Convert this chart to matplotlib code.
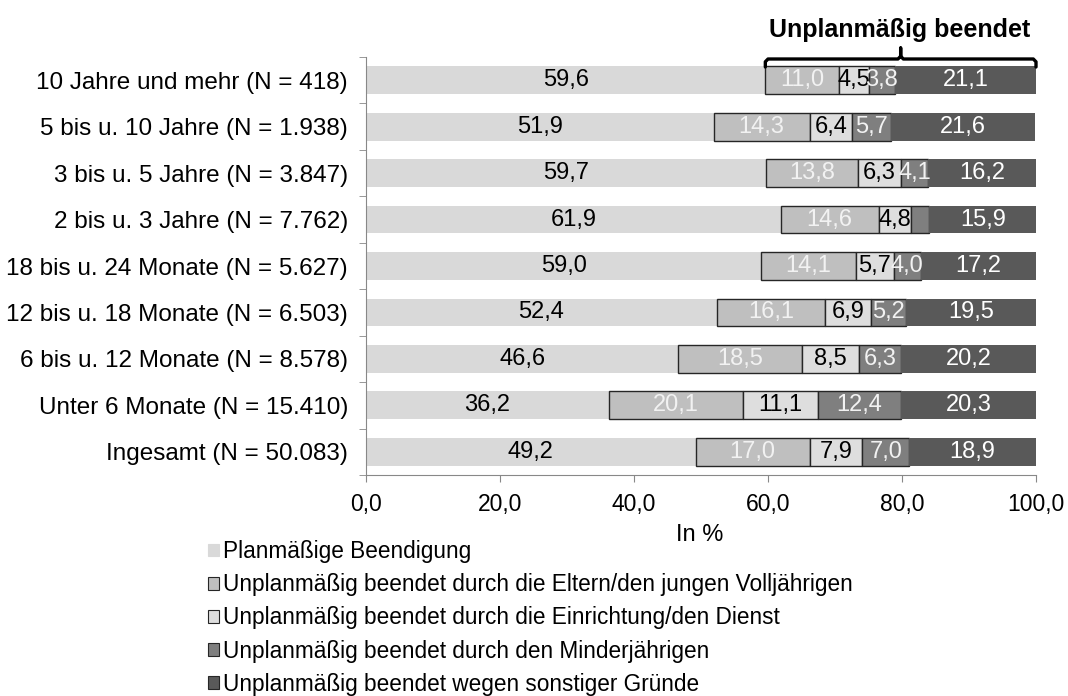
import matplotlib.pyplot as plt
import numpy as np
from matplotlib.patches import Patch
from matplotlib.transforms import blended_transform_factory

plt.rcParams['font.family'] = ['Liberation Sans', 'DejaVu Sans']

categories = [
    '10 Jahre und mehr (N = 418)',
    '5 bis u. 10 Jahre (N = 1.938)',
    '3 bis u. 5 Jahre (N = 3.847)',
    '2 bis u. 3 Jahre (N = 7.762)',
    '18 bis u. 24 Monate (N = 5.627)',
    '12 bis u. 18 Monate (N = 6.503)',
    '6 bis u. 12 Monate (N = 8.578)',
    'Unter 6 Monate (N = 15.410)',
    'Ingesamt (N = 50.083)',
]
planmaessig = [59.6, 51.9, 59.7, 61.9, 59.0, 52.4, 46.6, 36.2, 49.2]
eltern = [11.0, 14.3, 13.8, 14.6, 14.1, 16.1, 18.5, 20.1, 17.0]
einrichtung = [4.5, 6.4, 6.3, 4.8, 5.7, 6.9, 8.5, 11.1, 7.9]
minderjaehrige = [3.8, 5.7, 4.1, 2.8, 4.0, 5.2, 6.3, 12.4, 7.0]
sonstige = [21.1, 21.6, 16.2, 15.9, 17.2, 19.5, 20.2, 20.3, 18.9]

series_names = [
    'Planmäßige Beendigung',
    'Unplanmäßig beendet durch die Eltern/den jungen Volljährigen',
    'Unplanmäßig beendet durch die Einrichtung/den Dienst',
    'Unplanmäßig beendet durch den Minderjährigen',
    'Unplanmäßig beendet wegen sonstiger Gründe',
]
x_ticks = [0, 20, 40, 60, 80, 100]

series = [planmaessig, eltern, einrichtung, minderjaehrige, sonstige]
colors = ['#d9d9d9', '#bfbfbf', '#dedede', '#7f7f7f', '#595959']
edges = ['none', '#262626', '#262626', '#262626', 'none']
text_colors = ['black', '#f2f2f2', 'black', '#f2f2f2', 'white']


def de(v):
    return f'{v:.1f}'.replace('.', ',')


fig = plt.figure(figsize=(10.68, 6.96), dpi=100)
ax = fig.add_axes([366 / 1068, 1 - 475 / 696, 670 / 1068, 418 / 696])

y = np.arange(len(categories))
left = np.zeros(len(categories))
for vals, c, ec, tc in zip(series, colors, edges, text_colors):
    vals = np.array(vals)
    ax.barh(y, vals, left=left, height=0.6, color=c, edgecolor=ec,
            linewidth=1.0 if ec != 'none' else 0)
    for yi, l, v in zip(y, left, vals):
        if v >= 3:
            ax.text(l + v / 2, yi, de(v), ha='center', va='center',
                    fontsize=17, color=tc)
    left += vals

ax.set_xlim(0, 100)
ax.set_ylim(len(categories) - 0.5, -0.5)
ax.set_xticks(x_ticks)
ax.set_xticklabels([de(t) for t in x_ticks], fontsize=16.5)
ax.set_yticks(y)
ax.set_yticklabels(categories, fontsize=17.5)
ax.set_yticks(np.arange(len(categories) + 1) - 0.5, minor=True)
ax.tick_params(axis='y', which='major', length=0, pad=13)
ax.tick_params(axis='y', which='minor', length=5, color='#888888')
ax.tick_params(axis='x', length=5, color='#888888', pad=8)
for s in ['top', 'right']:
    ax.spines[s].set_visible(False)
for s in ['left', 'bottom']:
    ax.spines[s].set_color('#888888')

fig.text(700 / 1068, 1 - 535 / 696, 'In %', ha='center', va='center', fontsize=17)

# bracket over the unplanned part of the top bar
tr = blended_transform_factory(ax.transData, fig.transFigure)
x0 = planmaessig[0]
x1 = 100
xm = (x0 + x1) / 2
yb = 1 - 59 / 696
yd = 1 - 67 / 696
yt = 1 - 48 / 696
ax.plot([x0, x0, x0 + 0.4, xm - 0.4, xm, xm, xm, xm + 0.4, x1 - 0.4, x1, x1],
        [yd, yb - 0.004, yb, yb, yb + 0.004, yt, yb + 0.004, yb, yb, yb - 0.004, yd],
        color='black', lw=2.4, transform=tr, clip_on=False, solid_capstyle='round')
fig.text(900 / 1068, 1 - 30 / 696, 'Unplanmäßig beendet', ha='center', va='center',
         fontsize=18, fontweight='bold')

handles = [Patch(facecolor=c, edgecolor=(ec if ec != 'none' else c), linewidth=0.8)
           for c, ec in zip(colors, edges)]
handles[4] = Patch(facecolor=colors[4], edgecolor='#262626', linewidth=0.8)
fig.legend(handles, series_names, loc='upper left', bbox_to_anchor=(208 / 1068, 1 - 540 / 696),
           frameon=False, fontsize=16.3, handlelength=0.5, handleheight=0.5,
           handletextpad=0.15, labelspacing=0.45, borderpad=0, borderaxespad=0)

fig.savefig('out.png', dpi=100)
